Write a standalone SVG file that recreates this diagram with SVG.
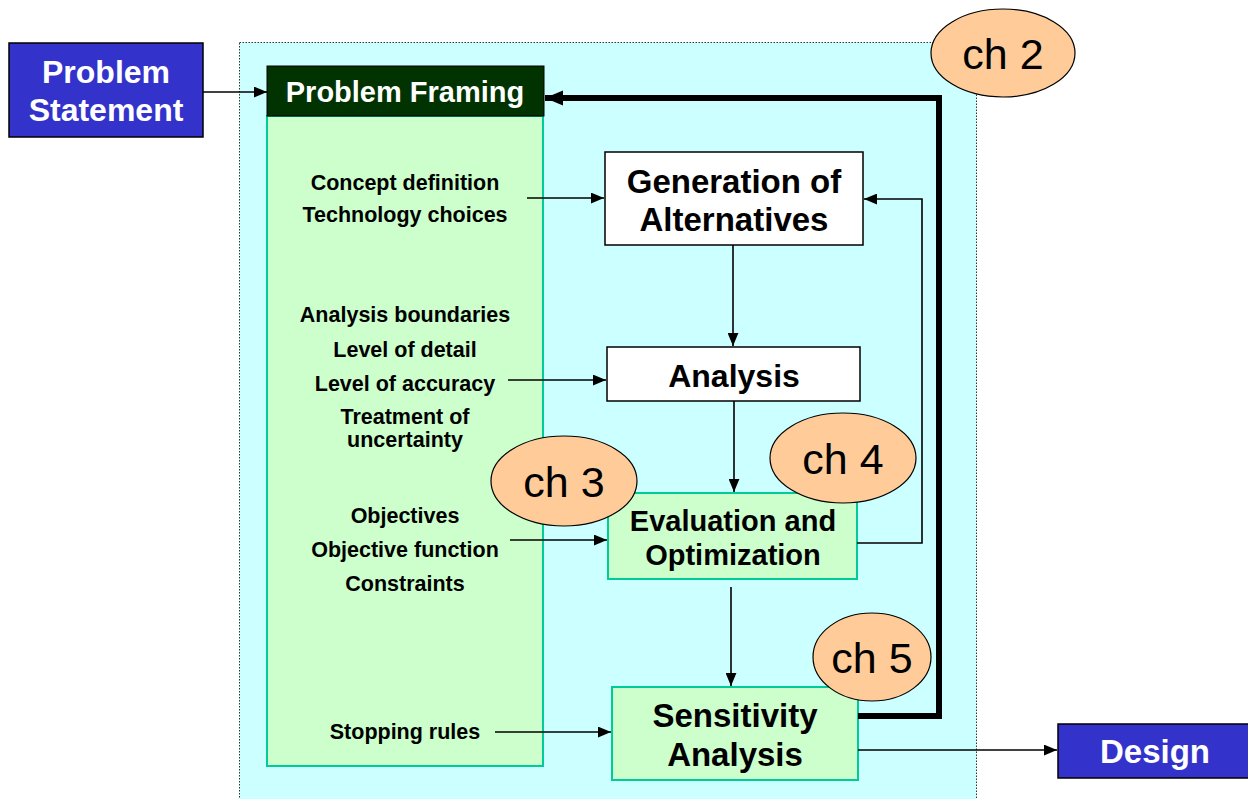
<svg xmlns="http://www.w3.org/2000/svg" width="1248" height="799" viewBox="0 0 1248 799">
  <style>
    .lbl { font-family: "Liberation Sans", Arial, sans-serif; font-weight: bold; font-size: 21.5px; fill: #000; text-anchor: middle; }
    .big { font-family: "Liberation Sans", Arial, sans-serif; font-weight: bold; font-size: 32px; fill: #000; text-anchor: middle; }
    .white { fill: #fff; }
    .ch { font-family: "Liberation Sans", Arial, sans-serif; font-size: 43px; fill: #000; text-anchor: middle; }
    .chshape { fill: #FFCC99; stroke: #000; stroke-width: 1.2; }
    .green { fill: #CCFFCC; stroke: #00CC99; stroke-width: 2; }
    .edge { stroke: #000; stroke-width: 1.6; fill: none; }
  </style>
  <defs>
    <marker id="arr" viewBox="0 0 12 10" refX="12" refY="5" markerWidth="13" markerHeight="11" markerUnits="userSpaceOnUse" orient="auto">
      <path d="M0,0 L12,5 L0,10 z" fill="#000"/>
    </marker>
    <marker id="arrL" viewBox="0 0 12 10" refX="12" refY="5" markerWidth="18" markerHeight="22" markerUnits="userSpaceOnUse" orient="auto">
      <path d="M0,0 L12,5 L0,10 z" fill="#000"/>
    </marker>
  </defs>

  <!-- framing region -->
  <rect id="region" x="239.5" y="42.5" width="737" height="770" fill="#CCFFFF" stroke="#333" stroke-width="1" stroke-dasharray="1.5,1.5"/>

  <g id="problem-statement">
    <rect x="9" y="43" width="194" height="94" fill="#3333CC" stroke="#000" stroke-width="1.5"/>
    <text class="big white" x="106" y="83">Problem</text>
    <text class="big white" x="106" y="121">Statement</text>
  </g>

  <g id="problem-framing">
    <rect class="green" x="267" y="116" width="276" height="650"/>
    <rect x="267" y="66" width="277" height="50" fill="#003300" stroke="#000" stroke-width="1"/>
    <text class="lbl white" x="405" y="102" style="font-size:29px">Problem Framing</text>
    <text class="lbl" x="405" y="190">Concept definition</text>
    <text class="lbl" x="405" y="222">Technology choices</text>
    <text class="lbl" x="405" y="322">Analysis boundaries</text>
    <text class="lbl" x="405" y="357">Level of detail</text>
    <text class="lbl" x="405" y="391">Level of accuracy</text>
    <text class="lbl" x="405" y="424">Treatment of</text>
    <text class="lbl" x="405" y="447">uncertainty</text>
    <text class="lbl" x="405" y="523">Objectives</text>
    <text class="lbl" x="405" y="557">Objective function</text>
    <text class="lbl" x="405" y="591">Constraints</text>
    <text class="lbl" x="405" y="739">Stopping rules</text>
  </g>

  <g id="generation">
    <rect x="605" y="152" width="258" height="93" fill="#fff" stroke="#000" stroke-width="1.5"/>
    <text class="big" x="734" y="193" style="font-size:33px">Generation of</text>
    <text class="big" x="734" y="231" style="font-size:33px">Alternatives</text>
  </g>

  <g id="analysis">
    <rect x="607" y="347" width="253" height="54" fill="#fff" stroke="#000" stroke-width="1.5"/>
    <text class="big" x="734" y="387">Analysis</text>
  </g>

  <g id="evaluation">
    <rect class="green" x="608" y="493" width="249" height="86"/>
    <text class="big" x="733" y="531" style="font-size:29px">Evaluation and</text>
    <text class="big" x="733" y="565" style="font-size:29px">Optimization</text>
  </g>

  <g id="sensitivity">
    <rect class="green" x="612" y="687" width="246" height="93"/>
    <text class="big" x="735" y="727" style="font-size:33px">Sensitivity</text>
    <text class="big" x="735" y="766" style="font-size:33px">Analysis</text>
  </g>

  <g id="design">
    <rect x="1058" y="724" width="195" height="54" fill="#3333CC" stroke="#000" stroke-width="1.5"/>
    <text class="big white" x="1155" y="763" style="font-size:33px">Design</text>
  </g>

  <g id="connectors">
    <line class="edge" x1="203" y1="92" x2="267" y2="92" marker-end="url(#arr)" style="stroke-width:1.4"/>
    <polyline points="858,716 939,716 939,98 545,98" fill="none" stroke="#000" stroke-width="6" marker-end="url(#arrL)"/>
    <polyline class="edge" points="857,543 922,543 922,199 864,199" marker-end="url(#arr)"/>
    <line class="edge" x1="527" y1="198" x2="604" y2="198" marker-end="url(#arr)"/>
    <line class="edge" x1="508" y1="380" x2="606" y2="380" marker-end="url(#arr)"/>
    <line class="edge" x1="510" y1="540" x2="607" y2="540" marker-end="url(#arr)"/>
    <line class="edge" x1="495" y1="732" x2="611" y2="732" marker-end="url(#arr)"/>
    <line class="edge" x1="733" y1="245" x2="733" y2="346" marker-end="url(#arr)"/>
    <line class="edge" x1="734" y1="401" x2="734" y2="492" marker-end="url(#arr)"/>
    <line class="edge" x1="731" y1="587" x2="731" y2="686" marker-end="url(#arr)"/>
    <line class="edge" x1="858" y1="750" x2="1057" y2="750" marker-end="url(#arr)"/>
  </g>

  <g id="ch2">
    <ellipse class="chshape" cx="1003" cy="53" rx="72" ry="44"/>
    <text class="ch" x="1003" y="69">ch 2</text>
  </g>
  <g id="ch3">
    <ellipse class="chshape" cx="564" cy="481" rx="73" ry="45"/>
    <text class="ch" x="564" y="497">ch 3</text>
  </g>
  <g id="ch4">
    <ellipse class="chshape" cx="843" cy="458" rx="73" ry="45"/>
    <text class="ch" x="843" y="474">ch 4</text>
  </g>
  <g id="ch5">
    <ellipse class="chshape" cx="872" cy="657" rx="59" ry="44"/>
    <text class="ch" x="872" y="673">ch 5</text>
  </g>
</svg>
